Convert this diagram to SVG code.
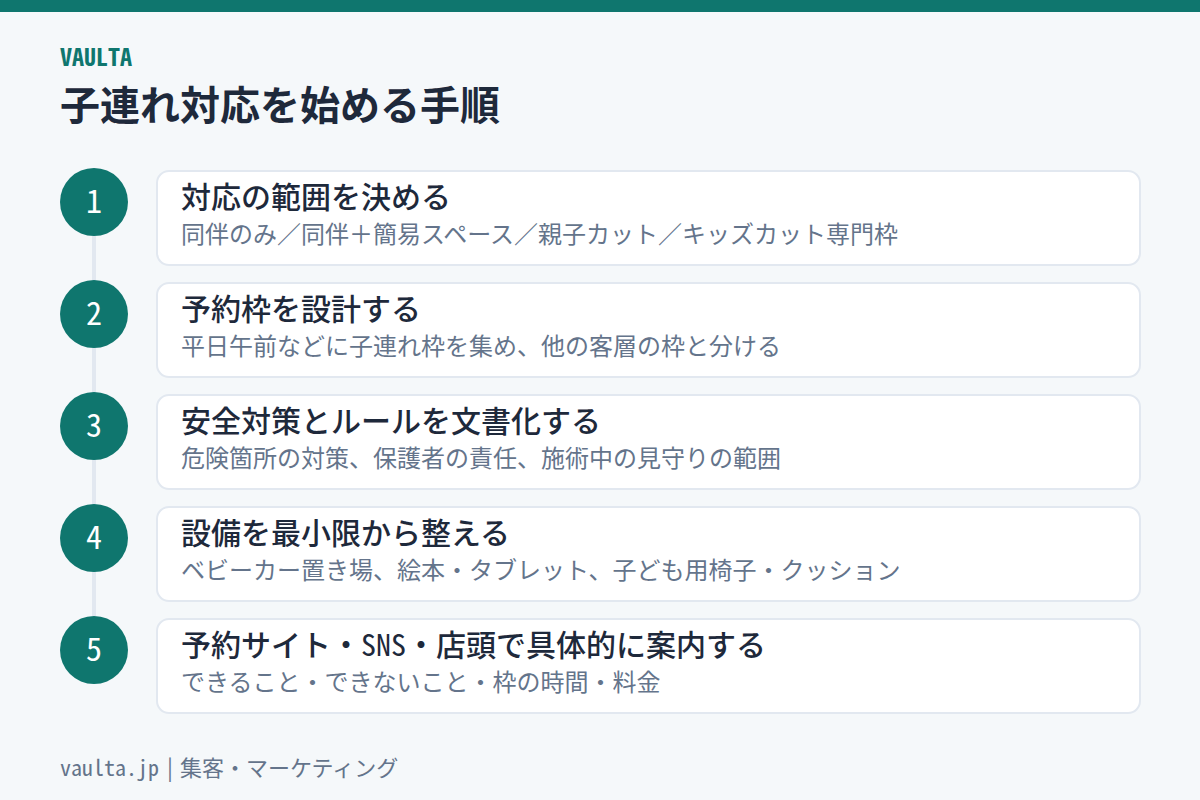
<svg xmlns="http://www.w3.org/2000/svg" width="1200" height="800" viewBox="0 0 1200 800">
<style>
text{font-family:"Noto Sans CJK JP","Noto Sans",sans-serif}
.mono{font-family:"Noto Sans Mono CJK JP","DejaVu Sans Mono","Noto Sans CJK JP",monospace}
.card{fill:#ffffff;stroke:#e2e8f0;stroke-width:2}
.dot{fill:#0f766e}
.num{fill:#ffffff;font-size:32px;font-weight:500;text-anchor:middle}
.h{fill:#1e293b;font-size:30px;font-weight:500}
.s{fill:#64748b;font-size:24px}
</style>
<rect x="0" y="0" width="1200" height="800" fill="#f5f8fa"/>
<rect x="0" y="0" width="1200" height="12" fill="#0f766e"/>
<text x="60" y="66" class="mono" font-size="24" font-weight="700" fill="#0f766e">VAULTA</text>
<text x="60" y="120" font-size="40" font-weight="700" fill="#1e293b">子連れ対応を始める手順</text>
<g id="connectors">
<line x1="94" y1="236" x2="94" y2="616" stroke="#e2e8f0" stroke-width="4"/>
</g>
<g id="step1">
<rect class="card" x="157" y="171" width="983" height="94" rx="12"/>
<circle class="dot" cx="94" cy="202" r="34"/>
<text class="num mono" x="94" y="213">1</text>
<text class="h" x="181" y="208">対応の範囲を決める</text>
<text class="s" x="181" y="243">同伴のみ／同伴＋簡易スペース／親子カット／キッズカット専門枠</text>
</g>
<g id="step2">
<rect class="card" x="157" y="283" width="983" height="94" rx="12"/>
<circle class="dot" cx="94" cy="314" r="34"/>
<text class="num mono" x="94" y="325">2</text>
<text class="h" x="181" y="320">予約枠を設計する</text>
<text class="s" x="181" y="355">平日午前などに子連れ枠を集め、他の客層の枠と分ける</text>
</g>
<g id="step3">
<rect class="card" x="157" y="395" width="983" height="94" rx="12"/>
<circle class="dot" cx="94" cy="426" r="34"/>
<text class="num mono" x="94" y="437">3</text>
<text class="h" x="181" y="432">安全対策とルールを文書化する</text>
<text class="s" x="181" y="467">危険箇所の対策、保護者の責任、施術中の見守りの範囲</text>
</g>
<g id="step4">
<rect class="card" x="157" y="507" width="983" height="94" rx="12"/>
<circle class="dot" cx="94" cy="538" r="34"/>
<text class="num mono" x="94" y="549">4</text>
<text class="h" x="181" y="544">設備を最小限から整える</text>
<text class="s" x="181" y="579">ベビーカー置き場、絵本・タブレット、子ども用椅子・クッション</text>
</g>
<g id="step5">
<rect class="card" x="157" y="619" width="983" height="94" rx="12"/>
<circle class="dot" cx="94" cy="650" r="34"/>
<text class="num mono" x="94" y="661">5</text>
<text class="h" x="181" y="656">予約サイト・<tspan class="mono">SNS</tspan>・店頭で具体的に案内する</text>
<text class="s" x="181" y="691">できること・できないこと・枠の時間・料金</text>
</g>
<text y="776" font-size="22" fill="#64748b"><tspan class="mono" x="60">vaulta.jp</tspan><tspan x="167">|</tspan><tspan x="180">集客・マーケティング</tspan></text>
</svg>
